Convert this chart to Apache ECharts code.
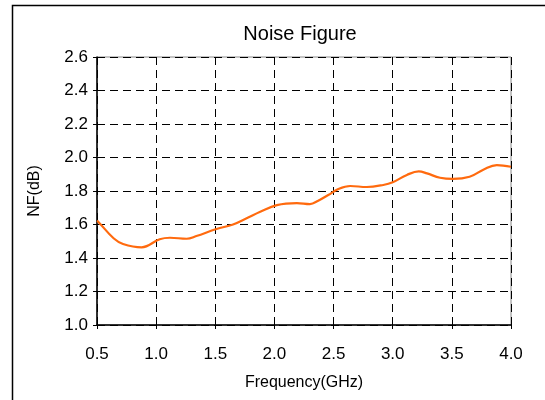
<!DOCTYPE html>
<html><head><meta charset="utf-8">
<script src="https://cdn.jsdelivr.net/npm/echarts@6/dist/echarts.min.js"></script>
<style>html,body{margin:0;padding:0;background:#fff}#c{width:545px;height:400px}</style>
</head><body><div id="c"></div>
<script>
var freq = [0.5, 0.51, 0.64, 0.72, 0.877, 1.03, 1.117, 1.258, 1.34, 1.51, 1.65, 1.765, 1.88, 2.02, 2.19, 2.30, 2.37, 2.455, 2.54, 2.64, 2.78, 2.92, 3.0, 3.12, 3.22, 3.29, 3.40, 3.51, 3.65, 3.77, 3.88, 4.0];
var nf   = [1.622, 1.617, 1.518, 1.484, 1.464, 1.512, 1.521, 1.515, 1.531, 1.573, 1.600, 1.637, 1.676, 1.716, 1.728, 1.722, 1.742, 1.776, 1.812, 1.830, 1.824, 1.836, 1.852, 1.896, 1.917, 1.905, 1.879, 1.872, 1.885, 1.929, 1.955, 1.945];
var xTicks = {min: 0.5, max: 4.0, step: 0.5};
var yTicks = {min: 1.0, max: 2.6, step: 0.2};
var titleText = 'Noise Figure';
var xName = 'Frequency(GHz)';
var yName = 'NF(dB)';

var pts = freq.map(function(f, i){ return [f, nf[i]]; });
var font = 'Liberation Sans, Arial, sans-serif';
var chart = echarts.init(document.getElementById('c'));
chart.setOption({
  animation: false,
  title: {text: titleText, left: 295, top: 19, textAlign: 'center',
    textStyle: {fontFamily: font, fontSize: 20, fontWeight: 'normal', color: '#000'}},
  graphic: [{type: 'rect', shape: {x: 12.5, y: 5.5, width: 700, height: 600},
    style: {fill: 'none', stroke: '#000', lineWidth: 1.5}, z: -1}],
  grid: {left: 97, top: 57, right: 34, bottom: 75, show: true, borderColor: '#888', borderWidth: 1},
  xAxis: {type: 'value', min: xTicks.min, max: xTicks.max, interval: xTicks.step,
    name: xName, nameLocation: 'middle', nameGap: 50,
    nameTextStyle: {fontFamily: font, fontSize: 16, color: '#000'},
    axisLine: {lineStyle: {color: '#000', width: 1.5}},
    axisTick: {show: true, length: 4, lineStyle: {color: '#000'}},
    axisLabel: {fontFamily: font, fontSize: 17, color: '#000', margin: 21,
      formatter: function(v){ return v.toFixed(1); }},
    splitLine: {show: true, lineStyle: {color: '#000', type: [8, 5], width: 1}}},
  yAxis: {type: 'value', min: yTicks.min, max: yTicks.max, interval: yTicks.step,
    name: yName, nameLocation: 'middle', nameGap: 54, nameRotate: 90,
    nameTextStyle: {fontFamily: font, fontSize: 16, color: '#000'},
    axisLine: {show: true, lineStyle: {color: '#000', width: 1.5}},
    axisTick: {show: true, length: 4, lineStyle: {color: '#000'}},
    axisLabel: {fontFamily: font, fontSize: 17, color: '#000', margin: 9,
      formatter: function(v){ return v.toFixed(1); }},
    splitLine: {show: true, lineStyle: {color: '#000', type: [8, 5], width: 1}}},
  series: [{type: 'line', data: pts, smooth: 0.4, symbol: 'none',
    lineStyle: {color: '#FF6A0E', width: 2.2}}]
});
</script></body></html>
